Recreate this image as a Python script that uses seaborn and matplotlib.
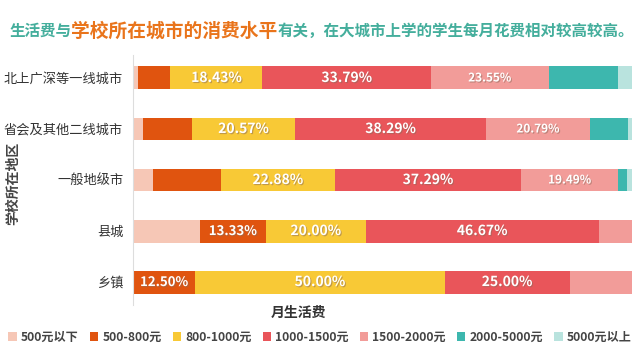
import numpy as np
import pandas as pd
import matplotlib.pyplot as plt
import matplotlib.patheffects as pe
from matplotlib.patches import Patch
import seaborn as sns

# %% data (percent of students per monthly budget band)
regions = ["北上广深等一线城市", "省会及其他二线城市", "一般地级市", "县城", "乡镇"]
bands = ["500元以下", "500-800元", "800-1000元", "1000-1500元",
         "1500-2000元", "2000-5000元", "5000元以上"]

below_500 = [1.00, 2.10, 4.00, 13.33, 0.00]
r500_800 = [6.50, 9.80, 13.60, 13.33, 12.50]
r800_1000 = [18.43, 20.57, 22.88, 20.00, 50.00]
r1000_1500 = [33.79, 38.29, 37.29, 46.67, 25.00]
r1500_2000 = [23.55, 20.79, 19.49, 6.67, 12.50]
r2000_5000 = [13.90, 7.60, 1.70, 0.00, 0.00]
above_5000 = [2.83, 0.85, 1.04, 0.00, 0.00]

# segments that carry a value label in the original
label_flags = {
    "500-800元": [False, False, False, True, True],
    "800-1000元": [True, True, True, True, True],
    "1000-1500元": [True, True, True, True, True],
    "1500-2000元": [True, True, True, False, False],
}

colors = ["#F6C7B6", "#E0540F", "#F8C936", "#E9555A",
          "#F29C99", "#3DB7AE", "#B9E3DE"]

df = pd.DataFrame({
    "地区": regions,
    bands[0]: below_500,
    bands[1]: r500_800,
    bands[2]: r800_1000,
    bands[3]: r1000_1500,
    bands[4]: r1500_2000,
    bands[5]: r2000_5000,
    bands[6]: above_5000,
})

# %% plot
sns.set_style("white")
plt.rcParams["font.family"] = ["Noto Sans CJK SC", "DejaVu Sans"]

fig, ax = plt.subplots(figsize=(6.4, 3.6), dpi=100)
ax.set_position([133 / 640, 1 - 305 / 360, 499 / 640, 250 / 360])

# stacked bars: draw cumulative totals from the longest to the shortest
for k in reversed(range(len(bands))):
    cum = df[bands[:k + 1]].sum(axis=1)
    sns.barplot(x=cum, y=df["地区"], color=colors[k], orient="h",
                width=0.45, saturation=1, ax=ax, linewidth=0)

# value labels
shadow = [pe.withSimplePatchShadow(offset=(0.8, -0.8),
                                   shadow_rgbFace="#8a6a5a", alpha=0.5)]
for band, flags in label_flags.items():
    k = bands.index(band)
    left = df[bands[:k]].sum(axis=1)
    vals = df[band]
    size = 8.5 if band in ("1500-2000元",) else 10
    if band == "500-800元":
        size = 9.5
    for i, (l, v, show) in enumerate(zip(left, vals, flags)):
        if show:
            ax.text(l + v / 2, i, f"{v:.2f}%", ha="center", va="center",
                    color="white", fontsize=size, fontweight="bold",
                    path_effects=shadow)

ax.set_xlim(0, 100)
ax.set_ylim(4.45, -0.45)
ax.set_xticks([])
ax.set_xlabel("")
ax.set_ylabel("")
ax.tick_params(axis="y", length=0, pad=7, labelsize=9.5, labelcolor="#333333")
for side in ["top", "right", "bottom"]:
    ax.spines[side].set_visible(False)
ax.spines["left"].set_color("#DDDDDD")
ax.spines["left"].set_linewidth(0.8)

# axis titles
fig.text(13 / 640, 1 - 183 / 360, "学校所在地区", rotation=90, ha="center",
         va="center", fontsize=10, fontweight="bold", color="#444444")
fig.text(298 / 640, 1 - 313 / 360, "月生活费", ha="center", va="center",
         fontsize=10, fontweight="bold", color="#333333")

# multi-colour headline
title_parts = [("生活费与", "#44AE9C", 11.2),
               ("学校所在城市的消费水平", "#E9741B", 13.5),
               ("有关，在大城市上学的学生每月花费相对较高较高。", "#44AE9C", 11.2)]
renderer = fig.canvas.get_renderer()
x = 9 / 640
for txt, col, size in title_parts:
    t = fig.text(x, 1 - 31 / 360, txt, color=col, fontsize=size,
                 fontweight="bold", ha="left", va="center")
    bb = t.get_window_extent(renderer)
    x = bb.x1 / fig.bbox.width

# legend
handles = [Patch(facecolor=c, edgecolor="none") for c in colors]
fig.legend(handles, bands, loc="center", bbox_to_anchor=(0.5, 1 - 337 / 360),
           ncol=7, frameon=False, prop={"size": 8.7, "weight": "bold"},
           labelcolor="#444444", handlelength=0.7, handleheight=0.7,
           handletextpad=0.35, columnspacing=0.9)

fig.savefig("out.png", dpi=100)
